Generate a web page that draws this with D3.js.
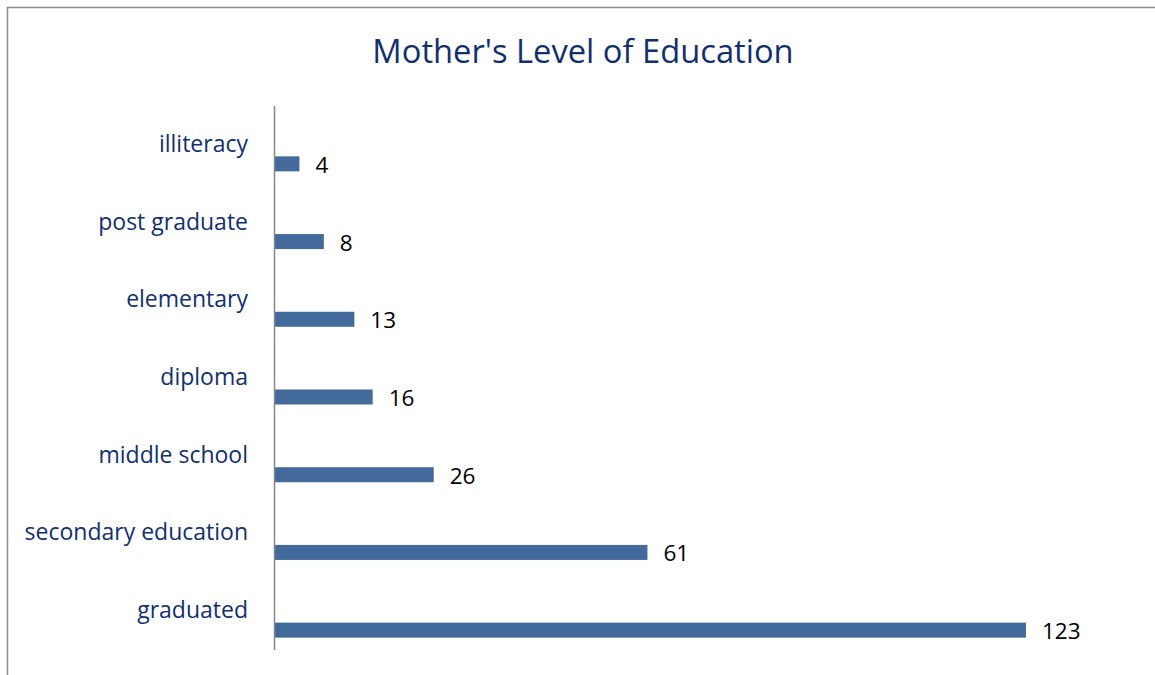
<!DOCTYPE html>
<html>
<head>
<meta charset="utf-8">
<script src="https://cdn.jsdelivr.net/npm/d3@7"></script>
<style>
  body { margin: 0; background: #fff; }
  svg { display: block; }
</style>
</head>
<body>
<div class="chart"></div>
<script>
// categories listed top to bottom
const categories = ["illiteracy", "post graduate", "elementary", "diploma", "middle school", "secondary education", "graduated"];
const counts = [4, 8, 13, 16, 26, 61, 123];

const width = 1155, height = 675;
const navy = "#13306c";

const svg = d3.select(".chart").append("svg")
  .attr("width", width)
  .attr("height", height);

// chart frame (only left and top visible in the crop)
svg.append("path")
  .attr("d", "M7.5," + height + "V7.5H" + width)
  .attr("fill", "none")
  .attr("stroke", "#8c8c8c")
  .attr("stroke-width", 1.5);

svg.append("text")
  .attr("x", 583)
  .attr("y", 63)
  .attr("text-anchor", "middle")
  .attr("font-family", "Open Sans, sans-serif")
  .attr("font-size", 32.7)
  .attr("fill", navy)
  .text("Mother's Level of Education");

const x = d3.scaleLinear()
  .domain([0, 123])
  .range([275, 1026]);

const y = d3.scaleBand()
  .domain(categories)
  .range([106, 650]);

const barH = 15;
const barShift = 19; // bars sit below the band centre, labels above

const g = svg.append("g");

g.selectAll("rect")
  .data(counts)
  .enter()
  .append("rect")
  .attr("x", x(0))
  .attr("y", (d, i) => y(categories[i]) + y.bandwidth() / 2 + barShift - barH / 2)
  .attr("width", d => x(d) - x(0))
  .attr("height", barH)
  .attr("fill", "#426a9a");

g.selectAll(".val")
  .data(counts)
  .enter()
  .append("text")
  .attr("class", "val")
  .attr("x", d => x(d) + 16)
  .attr("y", (d, i) => y(categories[i]) + y.bandwidth() / 2 + barShift + 9)
  .attr("font-family", "Open Sans, sans-serif")
  .attr("font-size", 22.5)
  .attr("fill", "#000")
  .text(d => d);

// category labels
g.selectAll(".cat")
  .data(categories)
  .enter()
  .append("text")
  .attr("class", "cat")
  .attr("x", 248)
  .attr("y", d => y(d) + y.bandwidth() / 2 + 7)
  .attr("text-anchor", "end")
  .attr("font-family", "Open Sans, sans-serif")
  .attr("font-size", 23)
  .attr("fill", navy)
  .text(d => d);

// vertical axis line
svg.append("line")
  .attr("x1", 274.5).attr("x2", 274.5)
  .attr("y1", 106).attr("y2", 650)
  .attr("stroke", "#868686")
  .attr("stroke-width", 1.5);
</script>
</body>
</html>
